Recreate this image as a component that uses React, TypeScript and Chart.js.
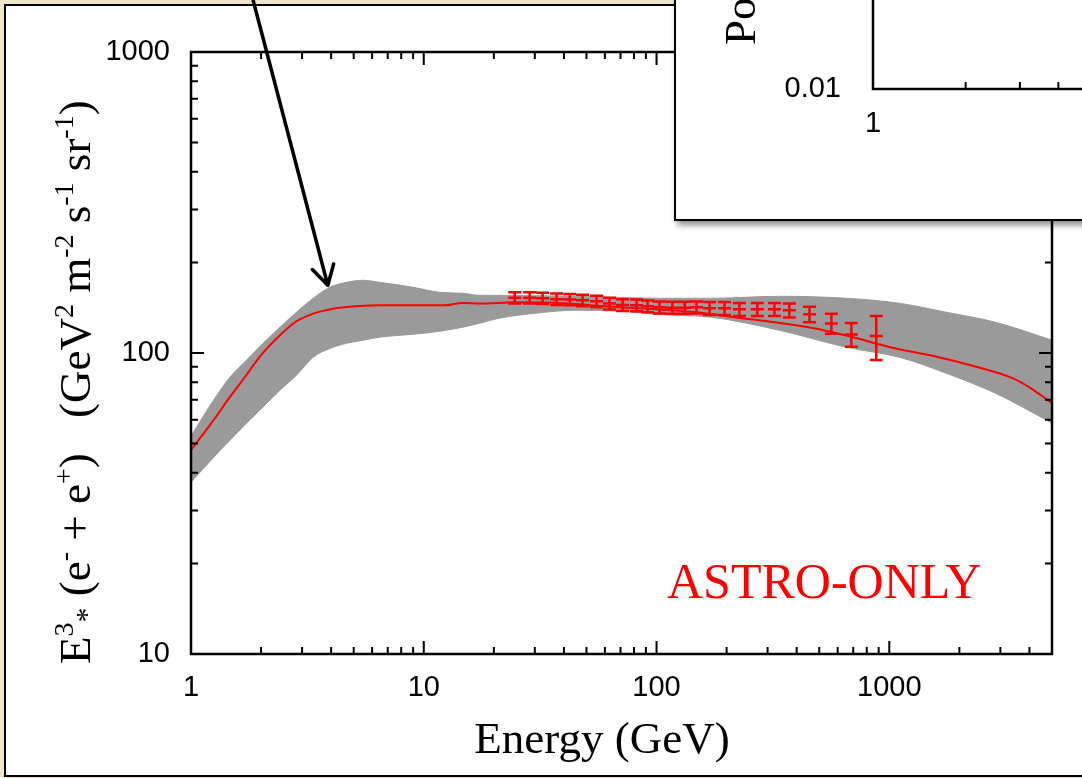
import React, { useEffect, useRef } from 'react';
import { Chart, registerables } from 'chart.js';

Chart.register(...registerables);

// ---------------- data ----------------
// gray model band (energy in GeV, E^3 flux)
const BAND_E = [1, 1.25, 1.47, 1.73, 2.04, 2.41, 2.84, 3.35, 3.95, 4.66, 5.49, 6.47, 9, 11.7, 14.7, 17.4, 21, 30, 45, 70, 100, 173, 337, 654, 1104, 1754, 2860, 5000];
const BAND_UPPER = [53, 69.7, 83.1, 94.6, 107.7, 121.8, 136.6, 152.0, 165.3, 171.7, 174.4, 171.7, 165.3, 159.1, 157.9, 155.5, 155.5, 155.0, 154.3, 153.0, 152.0, 152.0, 154.3, 152.0, 146.3, 136.6, 126.5, 110.3];
const BAND_LOWER = [37.2, 45.0, 51.3, 58.4, 66.2, 75.2, 84.4, 96.8, 103.5, 107.7, 110.3, 112.9, 115.4, 118.1, 121.8, 125.6, 130.4, 135.5, 138.7, 137.6, 134.5, 131.4, 119.0, 104.5, 96.8, 85.7, 73.5, 58.5];

// red best-fit model line
const MODEL_E = [1, 1.25, 1.47, 1.73, 1.98, 2.41, 2.84, 3.35, 4.07, 4.66, 6.47, 9, 12.2, 14.7, 17.4, 25, 40, 60, 100, 150, 200, 300, 450, 700, 900, 1100, 1500, 2400, 3400, 4000, 5000];
const MODEL_FLUX = [47.6, 59.8, 71.5, 84.5, 97.5, 114.5, 127.5, 135.2, 140.4, 142.2, 144.0, 144.0, 144.0, 146.6, 146.0, 147.4, 146.3, 142.9, 139.7, 136.6, 132.4, 127.5, 121.8, 112.8, 106.9, 102.9, 98.3, 89.7, 82.4, 76.9, 68.1];

// red measured points with error bars
const DATA_E = [24.6, 28.5, 32.4, 37.2, 42.4, 48.1, 55.3, 62.8, 71.5, 82.1, 91.5, 103, 117, 132, 148.5, 169, 196, 227, 271, 321, 372, 454, 564, 687, 879];
const DATA_FLUX = [152.6, 152.6, 152, 151, 150.6, 149.6, 148.5, 146, 144.5, 144, 143, 141.9, 141.4, 141.4, 141.9, 140.8, 140.8, 139.7, 139.7, 139.7, 138.6, 134.4, 125.4, 115.3, 113.8];
const DATA_ERR = [6.5, 6.5, 6.5, 6.5, 6.5, 6.5, 6.5, 6.5, 6.5, 6.5, 6.5, 6.5, 6.5, 6.5, 6.5, 7, 7, 7, 7, 7, 7.5, 8, 9.5, 10.5, 19];

const X_TICK_LABELS = [1, 10, 100, 1000];
const Y_TICK_LABELS = [10, 100, 1000];
const X_MIN = 1, X_MAX = 5000, Y_MIN = 10, Y_MAX = 1000;

// annotation arrow (data coordinates: energy, flux)
const ARROW_FROM = [1.85, 1483];
const ARROW_TO = [3.87, 168];

// inset axes
const INSET_X_TICK_LABELS = [1, 10];
const INSET_Y_TICK_LABELS = [0.01, 0.1, 1];

// ---------------- styles ----------------
const W = 1082, H = 778;
const SERIF = '"Liberation Serif", "Times New Roman", Times, serif';
const SANS = '"Liberation Sans", Arial, Helvetica, sans-serif';
const BEIGE = '#EEE6C6';

const isOneOf = (v: number, list: number[]) => list.some((t) => Math.abs(Math.log10(v) - Math.log10(t)) < 1e-6);

const logTicks = (min: number, max: number) => {
  const out: { v: number; major: boolean }[] = [];
  for (let d = Math.pow(10, Math.floor(Math.log10(min))); d <= max; d *= 10) {
    for (let m = 1; m <= 9; m++) {
      const v = m * d;
      if (v >= min * 0.9999 && v <= max * 1.0001) out.push({ v, major: m === 1 });
    }
  }
  return out;
};

type Piece = { t: string; s: number; dy: number };
const drawRich = (ctx: CanvasRenderingContext2D, parts: Piece[], x0: number) => {
  let cx = x0;
  for (const p of parts) {
    ctx.font = `${p.s}px ${SERIF}`;
    ctx.fillText(p.t, cx, p.dy);
    cx += ctx.measureText(p.t).width;
  }
};

const mainDecor = {
  id: 'mainDecor',
  beforeDraw(chart: any) {
    const ctx: CanvasRenderingContext2D = chart.ctx;
    ctx.save();
    ctx.fillStyle = BEIGE;
    ctx.fillRect(0, 0, W, H);
    ctx.fillStyle = '#ffffff';
    ctx.fillRect(5, 5, W + 20, 771);
    ctx.strokeStyle = '#000';
    ctx.lineWidth = 2;
    ctx.strokeRect(5, 5, W + 20, 771);
    ctx.restore();
  },
  afterDatasetsDraw(chart: any) {
    const ctx: CanvasRenderingContext2D = chart.ctx;
    const ca = chart.chartArea;
    const x = chart.scales.x;
    const y = chart.scales.y;
    ctx.save();

    // error bars
    ctx.strokeStyle = '#ff0000';
    ctx.lineWidth = 2.5;
    DATA_E.forEach((e, i) => {
      const px = x.getPixelForValue(e);
      const pc = y.getPixelForValue(DATA_FLUX[i]);
      const pt = y.getPixelForValue(DATA_FLUX[i] + DATA_ERR[i]);
      const pb = y.getPixelForValue(DATA_FLUX[i] - DATA_ERR[i]);
      const hw = 6.5;
      ctx.beginPath();
      ctx.moveTo(px, pt); ctx.lineTo(px, pb);
      ctx.moveTo(px - hw, pt); ctx.lineTo(px + hw, pt);
      ctx.moveTo(px - hw, pb); ctx.lineTo(px + hw, pb);
      ctx.moveTo(px - hw, pc); ctx.lineTo(px + hw, pc);
      ctx.stroke();
    });

    // frame
    ctx.strokeStyle = '#000';
    ctx.lineWidth = 2.5;
    ctx.strokeRect(ca.left, ca.top, ca.right - ca.left, ca.bottom - ca.top);

    // ticks (inward, all four sides)
    ctx.lineWidth = 2;
    ctx.beginPath();
    for (const t of logTicks(X_MIN, X_MAX)) {
      const px = x.getPixelForValue(t.v);
      const len = t.major ? 13 : 7;
      ctx.moveTo(px, ca.bottom); ctx.lineTo(px, ca.bottom - len);
      ctx.moveTo(px, ca.top); ctx.lineTo(px, ca.top + len);
    }
    for (const t of logTicks(Y_MIN, Y_MAX)) {
      const py = y.getPixelForValue(t.v);
      const len = t.major ? 13 : 7;
      ctx.moveTo(ca.left, py); ctx.lineTo(ca.left + len, py);
      ctx.moveTo(ca.right, py); ctx.lineTo(ca.right - len, py);
    }
    ctx.stroke();

    // x title
    ctx.fillStyle = '#000';
    ctx.font = `45px ${SERIF}`;
    ctx.textAlign = 'center';
    ctx.textBaseline = 'alphabetic';
    ctx.fillText('Energy (GeV)', 602, 753);

    // y title (rotated, with super/subscripts)
    ctx.save();
    ctx.translate(90, 664);
    ctx.rotate(-Math.PI / 2);
    ctx.textAlign = 'left';
    drawRich(ctx, [
      { t: 'E', s: 45, dy: 0 },
      { t: '3', s: 28, dy: -17 },
      { t: '*', s: 30, dy: 6 },
      { t: ' (e', s: 45, dy: 0 },
      { t: '-', s: 28, dy: -17 },
      { t: ' + e', s: 45, dy: 0 },
      { t: '+', s: 28, dy: -17 },
      { t: ')', s: 45, dy: 0 },
    ], 0);
    drawRich(ctx, [
      { t: '(GeV', s: 45, dy: 0 },
      { t: '2', s: 28, dy: -17 },
      { t: ' m', s: 45, dy: 0 },
      { t: '-2', s: 28, dy: -17 },
      { t: ' s', s: 45, dy: 0 },
      { t: '-1', s: 28, dy: -17 },
      { t: ' sr', s: 45, dy: 0 },
      { t: '-1', s: 28, dy: -17 },
      { t: ')', s: 45, dy: 0 },
    ], 246);
    ctx.restore();

    // label
    ctx.fillStyle = '#ff0000';
    ctx.font = `50px ${SERIF}`;
    ctx.textAlign = 'left';
    ctx.fillText('ASTRO-ONLY', 667, 598);

    // arrow
    const x0 = x.getPixelForValue(ARROW_FROM[0]);
    const y0 = y.getPixelForValue(ARROW_FROM[1]);
    const x1 = x.getPixelForValue(ARROW_TO[0]);
    const y1 = y.getPixelForValue(ARROW_TO[1]);
    ctx.strokeStyle = '#000';
    ctx.lineWidth = 3.5;
    ctx.lineCap = 'round';
    ctx.lineJoin = 'round';
    ctx.beginPath();
    ctx.moveTo(x0, y0); ctx.lineTo(x1, y1);
    const ang = Math.atan2(y0 - y1, x0 - x1);
    const wl = 22, spread = Math.PI / 6;
    ctx.moveTo(x1 + wl * Math.cos(ang - spread), y1 + wl * Math.sin(ang - spread));
    ctx.lineTo(x1, y1);
    ctx.lineTo(x1 + wl * Math.cos(ang + spread), y1 + wl * Math.sin(ang + spread));
    ctx.stroke();

    ctx.restore();
  },
};

const insetDecor = {
  id: 'insetDecor',
  afterDraw(chart: any) {
    const ctx: CanvasRenderingContext2D = chart.ctx;
    const ca = chart.chartArea;
    const x = chart.scales.x;
    ctx.save();
    ctx.strokeStyle = '#000';
    ctx.lineWidth = 2.5;
    ctx.strokeRect(ca.left, ca.top, ca.right - ca.left, ca.bottom - ca.top);
    ctx.lineWidth = 2;
    ctx.beginPath();
    for (const t of logTicks(1, 50)) {
      const px = x.getPixelForValue(t.v);
      const len = t.major ? 13 : 7;
      ctx.moveTo(px, ca.bottom); ctx.lineTo(px, ca.bottom - len);
    }
    ctx.stroke();
    ctx.fillStyle = '#000';
    ctx.translate(79, 345);
    ctx.rotate(-Math.PI / 2);
    ctx.font = `45px ${SERIF}`;
    ctx.textAlign = 'left';
    ctx.textBaseline = 'alphabetic';
    ctx.fillText('Positron Fraction', 0, 0);
    ctx.restore();
  },
};

const tickFont = { family: SANS, size: 29 };

export default function App() {
  const mainRef = useRef<HTMLCanvasElement>(null);
  const insetRef = useRef<HTMLCanvasElement>(null);

  useEffect(() => {
    const main = new Chart(mainRef.current as HTMLCanvasElement, {
      type: 'line',
      data: {
        datasets: [
          {
            label: 'model',
            data: MODEL_E.map((e, i) => ({ x: e, y: MODEL_FLUX[i] })),
            borderColor: '#ff0000',
            borderWidth: 2,
            pointRadius: 0,
            fill: false,
            cubicInterpolationMode: 'monotone',
            order: 0,
          },
          {
            label: 'band upper',
            data: BAND_E.map((e, i) => ({ x: e, y: BAND_UPPER[i] })),
            borderColor: '#9a9a9a',
            borderWidth: 1,
            pointRadius: 0,
            fill: false,
            cubicInterpolationMode: 'monotone',
            order: 2,
          },
          {
            label: 'band lower',
            data: BAND_E.map((e, i) => ({ x: e, y: BAND_LOWER[i] })),
            borderColor: '#9a9a9a',
            backgroundColor: '#9a9a9a',
            borderWidth: 1,
            pointRadius: 0,
            fill: '-1',
            cubicInterpolationMode: 'monotone',
            order: 1,
          },
          {
            label: 'data',
            data: DATA_E.map((e, i) => ({ x: e, y: DATA_FLUX[i] })),
            showLine: false,
            pointRadius: 0,
            borderColor: '#ff0000',
            order: 0,
          },
        ],
      } as any,
      options: {
        responsive: false,
        animation: false,
        events: [],
        layout: { padding: { left: 0, top: 52, right: 30, bottom: 0 } },
        plugins: { legend: { display: false }, tooltip: { enabled: false } },
        scales: {
          x: {
            type: 'logarithmic',
            min: X_MIN,
            max: X_MAX,
            grid: { display: false },
            border: { display: false },
            ticks: {
              autoSkip: false,
              maxRotation: 0,
              minRotation: 0,
              padding: 9,
              color: '#000',
              font: tickFont,
              callback: (v: any) => (isOneOf(Number(v), X_TICK_LABELS) ? String(Number(v)) : ''),
            },
            afterFit: (s: any) => { s.height = 124; },
          },
          y: {
            type: 'logarithmic',
            min: Y_MIN,
            max: Y_MAX,
            grid: { display: false },
            border: { display: false },
            ticks: {
              autoSkip: false,
              padding: 13,
              color: '#000',
              font: tickFont,
              callback: (v: any) => (isOneOf(Number(v), Y_TICK_LABELS) ? String(Number(v)) : ''),
            },
            afterFit: (s: any) => { s.width = 191; },
          },
        },
      } as any,
      plugins: [mainDecor],
    });

    const inset = new Chart(insetRef.current as HTMLCanvasElement, {
      type: 'line',
      data: { datasets: [] },
      options: {
        responsive: false,
        animation: false,
        events: [],
        layout: { padding: { left: 0, top: 20, right: 8, bottom: 0 } },
        plugins: { legend: { display: false }, tooltip: { enabled: false } },
        scales: {
          x: {
            type: 'logarithmic',
            min: 1,
            max: 50,
            grid: { display: false },
            border: { display: false },
            ticks: {
              autoSkip: false,
              maxRotation: 0,
              minRotation: 0,
              padding: 10,
              color: '#000',
              font: tickFont,
              callback: (v: any) => (isOneOf(Number(v), INSET_X_TICK_LABELS) ? String(Number(v)) : ''),
            },
            afterFit: (s: any) => { s.height = 60; },
          },
          y: {
            type: 'logarithmic',
            min: 0.01,
            max: 1,
            grid: { display: false },
            border: { display: false },
            ticks: {
              autoSkip: false,
              padding: 24,
              color: '#000',
              font: tickFont,
              callback: (v: any) => (isOneOf(Number(v), INSET_Y_TICK_LABELS) ? String(Number(v)) : ''),
            },
            afterFit: (s: any) => { s.width = 197; },
          },
        },
      } as any,
      plugins: [insetDecor],
    });

    return () => {
      main.destroy();
      inset.destroy();
    };
  }, []);

  return (
    <div style={{ position: 'fixed', left: 0, top: 0, width: W, height: H, overflow: 'hidden', background: BEIGE }}>
      <canvas
        ref={mainRef}
        width={W}
        height={H}
        style={{ position: 'absolute', left: 0, top: 0, width: W, height: H }}
      />
      <div
        style={{
          position: 'absolute',
          left: 674,
          top: -4,
          width: 420,
          height: 225,
          boxSizing: 'border-box',
          borderLeft: '2px solid #000',
          borderBottom: '2px solid #000',
          background: '#fff',
          overflow: 'hidden',
          boxShadow: '3px 4px 6px rgba(0,0,0,0.45)',
        }}
      >
        <canvas
          ref={insetRef}
          width={730}
          height={449}
          style={{ position: 'absolute', left: 0, top: -296, width: 730, height: 449 }}
        />
      </div>
    </div>
  );
}
